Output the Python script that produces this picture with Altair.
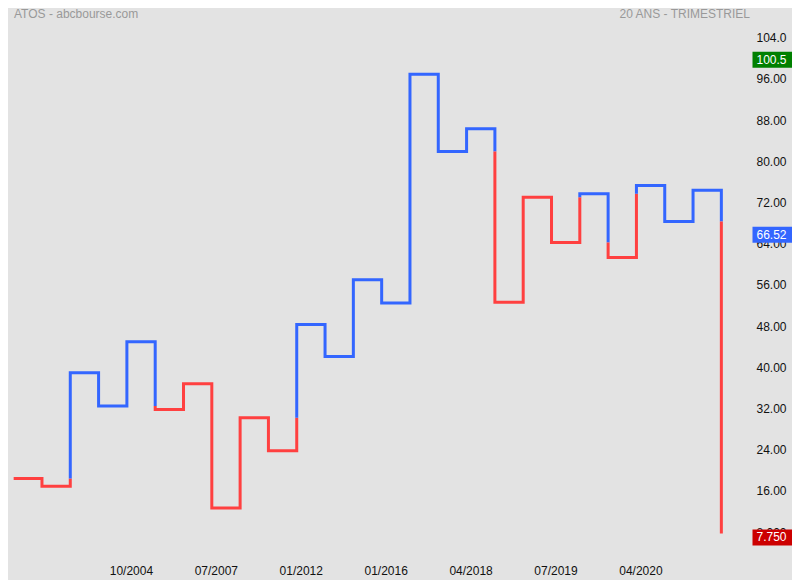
import altair as alt
import pandas as pd

# Kagi reversal levels (quarterly, 20 years)
levels = [18.4, 16.9, 38.95, 32.5, 44.97, 31.8, 36.8, 12.7, 30.2, 23.8,
          48.3, 42.1, 57.0, 52.5, 96.9, 81.9, 86.3, 52.6, 73.0, 64.2,
          73.7, 61.3, 75.3, 68.3, 74.35, 7.75]

# x-axis labels (at reversal index)
xlab_pos = [4, 7, 10, 13, 16, 19, 22]
xlab_text = ["10/2004", "07/2007", "01/2012", "01/2016", "04/2018", "07/2019", "04/2020"]

# y-axis ticks
y_ticks = [8, 16, 24, 32, 40, 48, 56, 64, 72, 80, 88, 96, 104]

# price tags on the right
tag_values = [100.5, 66.52, 7.75]
tag_labels = ["100.5", "66.52", "7.750"]
tag_colors = ["#008000", "#3366ff", "#cc0000"]

UP, DOWN = "#3366ff", "#ff4040"

# build Kagi path split into colour runs
runs = []
state = DOWN
cur = [(0, levels[0])]


def switch(pt, new_state):
    global cur, state
    cur.append(pt)
    runs.append((state, cur))
    cur = [pt]
    state = new_state


for k in range(1, len(levels)):
    prev, nxt = levels[k - 1], levels[k]
    cur.append((k, prev))  # end of horizontal
    if k >= 2:
        t = levels[k - 2]
        if nxt > prev and nxt > t and state == DOWN:
            switch((k, t), UP)
        elif nxt < prev and nxt < t and state == UP:
            switch((k, t), DOWN)
    cur.append((k, nxt))
runs.append((state, cur))

rows = []
for rid, (col, pts) in enumerate(runs):
    for i, (x, y) in enumerate(pts):
        rows.append({"run": rid, "ord": i, "x": x, "y": y, "col": col})
df = pd.DataFrame(rows)

tags = pd.DataFrame({"v": tag_values, "lab": tag_labels, "c": tag_colors})

label_map = "{" + ",".join(f"'{p}':'{t}'" for p, t in zip(xlab_pos, xlab_text)) + "}"

xscale = alt.Scale(domain=[-0.2, 25.8], nice=False, zero=False)
yscale = alt.Scale(domain=[2, 108], nice=False, zero=False)

line = alt.Chart(df).mark_line(strokeWidth=3, strokeJoin="miter", strokeCap="butt").encode(
    x=alt.X("x:Q", scale=xscale,
            axis=alt.Axis(values=xlab_pos, labelExpr=f"{label_map}[datum.value]",
                          title=None, grid=False, domain=False, ticks=False,
                          labelPadding=2, labelOffset=4, labelFontSize=12,
                          labelFont="Liberation Sans", labelColor="#111")),
    y=alt.Y("y:Q", scale=yscale,
            axis=alt.Axis(orient="right", values=y_ticks, format=".4r", title=None,
                          grid=False, domain=False, ticks=False, labelPadding=12,
                          labelFontSize=12, labelFont="Liberation Sans", labelColor="#111")),
    color=alt.Color("col:N", scale=None),
    detail="run:N",
    order="ord:Q",
)

tag_box = alt.Chart(tags).mark_tick(thickness=16, size=40, yOffset=4, opacity=1).encode(
    x=alt.value(764.5),
    y=alt.Y("v:Q", scale=yscale),
    color=alt.Color("c:N", scale=None),
)

tag_text = alt.Chart(tags).mark_text(align="left", baseline="middle", yOffset=4,
                                     fontSize=12, font="Liberation Sans", color="white").encode(
    x=alt.value(748.5),
    y=alt.Y("v:Q", scale=yscale),
    text="lab:N",
)

title_left = alt.Chart(pd.DataFrame({"t": ["ATOS - abcbourse.com"]})).mark_text(
    align="left", baseline="middle", fontSize=12, font="Liberation Sans", color="#999999"
).encode(x=alt.value(6), y=alt.value(-3), text="t:N")

title_right = alt.Chart(pd.DataFrame({"t": ["20 ANS - TRIMESTRIEL"]})).mark_text(
    align="right", baseline="middle", fontSize=12, font="Liberation Sans", color="#999999"
).encode(x=alt.value(742), y=alt.value(-3), text="t:N")

chart = alt.layer(line, tag_box, tag_text, title_left, title_right).properties(
    width=736, height=546,
    autosize=alt.AutoSizeParams(type="none"),
    padding={"left": 0, "top": 9, "right": 48, "bottom": 17},
    background="#e3e3e3",
).configure_view(stroke=None)

chart.save("out.html", embed_options={"renderer": "svg", "actions": False})
